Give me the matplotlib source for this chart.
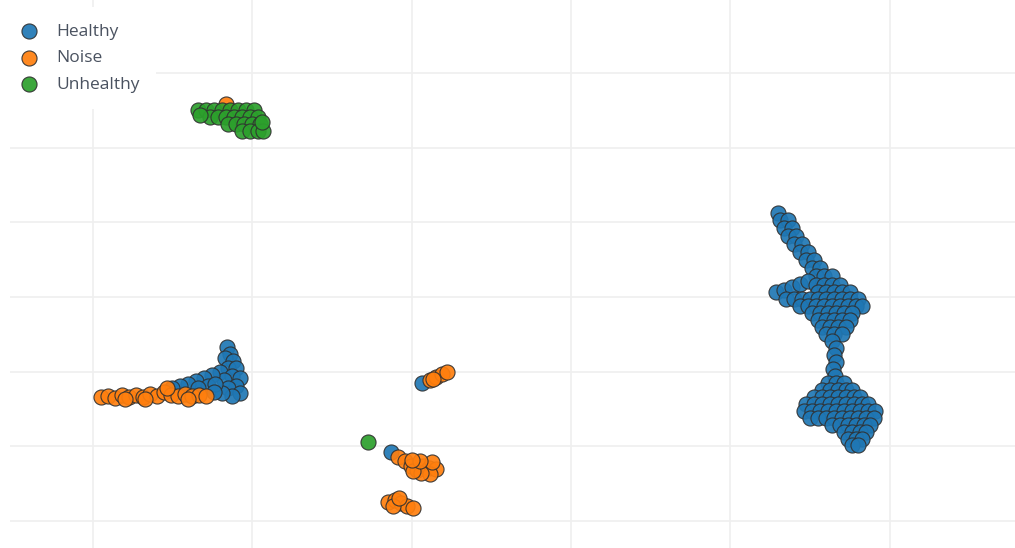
import matplotlib.pyplot as plt

# 2-D embedding of the recordings, one list pair per class
healthy_x = [
    # upper strip of the big cluster
    43.00, 43.12, 43.63, 43.37, 43.88, 43.63, 44.13, 44.00, 44.50, 44.38, 44.88,
    44.76, 45.26, 45.13, 45.63, 45.38, 45.88, 46.39,
    # left arm
    42.87, 43.37, 43.88, 44.38, 44.88,
    # upper mass
    45.38, 45.88, 46.39, 46.89,
    45.51, 46.01, 46.51, 47.01, 47.52,
    43.50, 44.00, 44.50, 45.01, 45.51, 46.01, 46.51, 47.01, 47.52, 48.02,
    44.38, 44.88, 45.38, 45.88, 46.39, 46.89, 47.39, 47.89, 48.27,
    45.13, 45.63, 46.14, 46.64, 47.14, 47.64,
    45.51, 46.01, 46.51, 47.01, 47.52,
    45.76, 46.26, 46.76, 47.27,
    46.01, 46.51, 47.01,
    # neck
    46.39, 46.64, 46.51, 46.64, 46.45, 46.58,
    # lower mass
    46.14, 46.64, 47.14,
    45.76, 46.26, 46.76, 47.27, 47.64,
    45.26, 45.76, 46.26, 46.76, 47.27, 47.77, 48.14,
    44.76, 45.26, 45.76, 46.26, 46.76, 47.27, 47.77, 48.27, 48.65,
    44.63, 45.13, 45.63, 46.14, 46.64, 47.14, 47.64, 48.14, 48.65, 49.09,
    45.01, 45.51, 46.01, 46.51, 47.01, 47.52, 48.02, 48.52, 49.02,
    46.39, 46.89, 47.39, 47.89, 48.40, 48.77,
    47.14, 47.64, 48.14, 48.52,
    47.39, 47.89, 48.27,
    47.64, 48.02,
    # left cluster
    8.41, 8.60, 8.29, 8.79, 8.47, 8.98, 7.97, 8.72, 9.23, 8.22, 8.98, 8.47,
    9.23, 8.72, 8.10,
    7.47, 6.97, 6.47, 5.96, 5.46, 4.96, 7.22, 6.59, 7.66, 7.60,
    # small middle groups
    20.65, 18.71,
]
healthy_y = [
    41.23, 40.29, 40.29, 39.22, 39.22, 38.15, 38.15, 37.08, 37.08, 36.01, 36.01,
    34.94, 34.94, 33.87, 33.87, 32.80, 32.80, 32.80,
    30.66, 30.92, 31.33, 31.73, 32.13,
    31.59, 31.59, 31.59, 31.59,
    30.66, 30.66, 30.66, 30.66, 30.66,
    29.72, 29.72, 29.72, 29.72, 29.72, 29.72, 29.72, 29.72, 29.72, 29.72,
    28.78, 28.78, 28.78, 28.78, 28.78, 28.78, 28.78, 28.78, 28.78,
    27.84, 27.84, 27.84, 27.84, 27.84, 27.84,
    26.91, 26.91, 26.91, 26.91, 26.91,
    25.97, 25.97, 25.97, 25.97,
    25.03, 25.03, 25.03,
    24.10, 23.16, 22.22, 21.29, 20.35, 19.41,
    18.47, 18.47, 18.47,
    17.54, 17.54, 17.54, 17.54, 17.54,
    16.60, 16.60, 16.60, 16.60, 16.60, 16.60, 16.60,
    15.66, 15.66, 15.66, 15.66, 15.66, 15.66, 15.66, 15.66, 15.66,
    14.73, 14.73, 14.73, 14.73, 14.73, 14.73, 14.73, 14.73, 14.73, 14.73,
    13.79, 13.79, 13.79, 13.79, 13.79, 13.79, 13.79, 13.79, 13.79,
    12.85, 12.85, 12.85, 12.85, 12.85, 12.85,
    11.91, 11.91, 11.91, 11.91,
    10.98, 10.98, 10.98,
    10.17, 10.17,
    23.29, 22.36, 21.82, 21.42, 20.48, 20.48, 19.95, 19.41, 19.14, 18.88, 18.07,
    17.80, 17.14, 16.73, 17.14,
    19.55, 19.14, 18.74, 18.34, 18.07, 17.80, 18.07, 17.80, 18.34, 17.27,
    18.47, 9.24,
]

noise_x = [
    0.50, 0.94, 1.38, 1.82, 2.26, 2.70, 3.14, 3.58, 4.02, 4.46, 4.90, 5.34,
    5.77, 6.21, 6.65, 7.09, 4.64, 2.01, 3.26, 5.96,
    21.15, 21.53, 21.91, 22.22, 21.34,
    19.14, 19.58, 19.96, 20.34, 20.71, 21.09, 21.53, 21.15, 20.59, 20.09,
    21.28, 20.53, 20.03,
    18.52, 18.96, 19.33, 19.71, 20.09, 18.83, 19.21,
    8.35,
]
noise_y = [
    16.60, 16.73, 16.47, 16.87, 16.60, 16.87, 16.60, 17.00, 16.73, 17.27, 16.87,
    16.73, 17.00, 16.73, 16.87, 16.73, 17.80, 16.33, 16.33, 16.33,
    18.88, 19.28, 19.68, 19.95, 19.01,
    8.57, 8.03, 7.36, 6.83, 7.36, 7.10, 6.96, 6.29, 6.43, 6.69,
    7.90, 8.03, 8.17,
    2.54, 2.81, 2.41, 2.01, 1.74, 2.01, 3.08,
    55.82,
]

unhealthy_x = [
    6.59, 7.09, 7.60, 8.10, 8.60, 9.10, 9.60, 10.11,
    7.34, 7.85, 8.35, 8.85, 9.35, 9.85, 10.36,
    8.47, 8.98, 9.48, 9.98, 10.48,
    9.35, 9.85, 10.36, 10.67,
    6.72, 10.61,
    17.26,
]
unhealthy_y = [
    55.02, 55.02, 55.02, 55.02, 55.02, 55.02, 55.02, 55.02,
    54.08, 54.08, 54.08, 54.08, 54.08, 54.08, 54.08,
    53.15, 53.15, 53.15, 53.15, 53.15,
    52.21, 52.21, 52.21, 52.21,
    54.35, 53.41,
    10.58,
]

x_ticks = [0, 10, 20, 30, 40, 50]
y_ticks = [0, 10, 20, 30, 40, 50, 60]

fig = plt.figure(figsize=(10.15, 5.48), dpi=100)
ax = fig.add_axes([10 / 1015, 0, 1 - 10 / 1015, 1])

style = dict(s=118, edgecolors="#303030", linewidths=0.8, alpha=0.92, zorder=3)
ax.scatter(healthy_x, healthy_y, color="#1f77b4", label="Healthy", **style)
ax.scatter(noise_x, noise_y, color="#ff7f0e", label="Noise", **style)
ax.scatter(unhealthy_x, unhealthy_y, color="#2ca02c", label="Unhealthy", **style)

ax.set_xlim(-5.21, 57.87)
ax.set_ylim(-3.61, 69.75)
ax.set_xticks(x_ticks)
ax.set_yticks(y_ticks)
ax.grid(True, color="#efefef", linewidth=1.2, zorder=0)
ax.set_axisbelow(True)
ax.tick_params(length=0, labelbottom=False, labelleft=False)
for s in ax.spines.values():
    s.set_visible(False)

leg = ax.legend(
    loc="upper left",
    bbox_to_anchor=(0.0, 1.0),
    bbox_transform=fig.transFigure,
    frameon=True,
    facecolor="white",
    edgecolor="none",
    framealpha=1,
    fancybox=False,
    handlelength=0.6,
    handletextpad=1.3,
    labelspacing=0.6,
    borderpad=0.95,
    borderaxespad=0.4,
    prop={"family": "Open Sans", "size": 12.5},
)
for t in leg.get_texts():
    t.set_color("#4a5260")
leg.set_zorder(5)

plt.savefig("out.png", dpi=100)
